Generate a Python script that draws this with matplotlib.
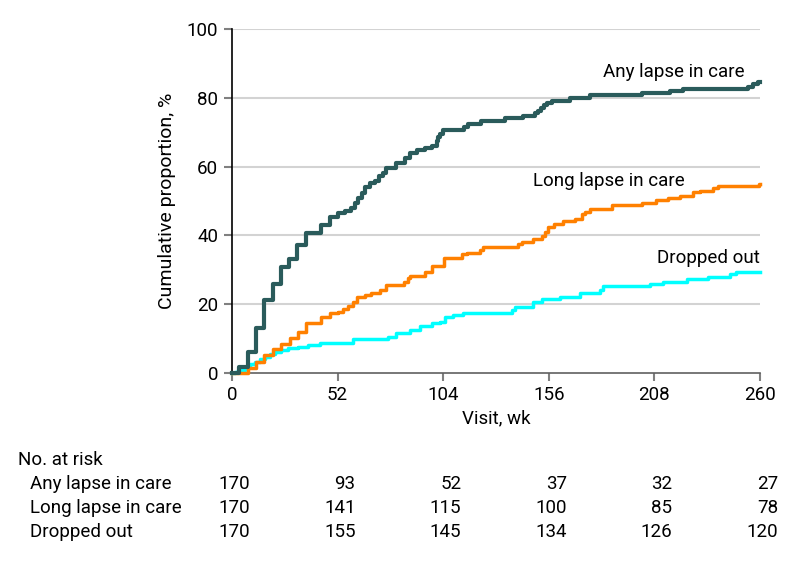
import matplotlib
matplotlib.use("Agg")
import matplotlib.pyplot as plt
import matplotlib.transforms as mtransforms

plt.rcParams['font.family'] = ['Roboto', 'DejaVu Sans']

# ---- data ----
any_wk = [0, 3.6, 8, 12, 16, 20.3, 24, 28, 32, 36.4, 43.8, 48.3, 52.3, 55.6, 58.6, 60.6, 62.2,
          63.9, 65.5, 68, 70.4, 72.5, 74.5, 76, 80.7, 85, 87.6, 91, 95.2, 98.3, 100.8, 101.6,
          102.5, 104, 114, 116.4, 122.5, 134.4, 143.4, 149.2, 150.5, 152, 153.5, 155, 157.4,
          166.4, 176.3, 201.7, 215.7, 222.2, 254.2, 256.7, 259, 260]
any_pct = [0, 1.7, 6, 13, 21.2, 25.9, 30.7, 33, 37.2, 40.6, 43, 45.4, 46.6, 47.2, 47.9, 49.3, 50.8,
           52.2, 54, 55.1, 55.9, 57.3, 58.2, 59.5, 61, 62.5, 63.9, 64.8, 65.5, 66.1, 67.5, 68.5,
           69.5, 70.6, 71.6, 72.4, 73.2, 74, 74.7, 75.5, 76.3, 77, 77.8, 78.5, 79.2,
           80, 80.8, 81.5, 82.1, 82.6, 83.2, 84, 84.5, 84.5]

long_wk = [0, 8, 12, 15.8, 20.2, 24, 28.4, 32.5, 36.3, 43.7, 48.1, 52.2, 54.7, 57.1, 59.6, 61.7,
           65.3, 68.6, 72.7, 76, 84.5, 86.7, 87.6, 95, 98.3, 104.5, 113.5, 115.6, 122, 123.4,
           141, 143, 148.4, 152.5, 154, 155.5, 158.5, 163.1, 168.9, 172.2, 174, 176.3, 187,
           201.7, 209, 214.8, 220.6, 227.1, 230.4, 237, 239.4, 259.5, 260]
long_pct = [0, 1.5, 3.3, 5.2, 6.9, 8.5, 10.1, 11.8, 14.6, 16.2, 17.3, 17.8, 18.5, 19.5, 20.7, 22,
            22.7, 23.3, 24.1, 25.6, 26.5, 27.5, 28.2, 29.3, 31.1, 33.5, 34.5, 35, 35.8, 36.5,
            37.5, 38.2, 39, 39.7, 41, 42.5, 43.3, 44.1, 44.8, 46.2, 46.9, 47.8, 48.8,
            49.5, 50.3, 51, 51.5, 52.5, 53, 53.7, 54.4, 54.9, 54.9]

drop_wk = [0, 1.5, 2.9, 6.2, 8.7, 11.2, 13.6, 16.1, 18.5, 21, 24.3, 27.6, 32.5, 37.4, 43.2, 59.6,
           76.8, 80.9, 87.5, 92.6, 98.3, 102.4, 104.9, 109, 113.9, 137.7, 139.3, 148.4, 152.5,
           161.5, 171.3, 181.2, 182.8, 205.8, 212.4, 223.9, 234.5, 245.2, 248.4, 260]
drop_pct = [0, 0.4, 0.9, 1.7, 2.6, 3.3, 4, 4.7, 5.5, 6.2, 6.7, 7.2, 7.6, 8.1, 8.8, 9.8,
            10.6, 11.7, 12.5, 13.6, 14.4, 14.9, 16.2, 16.9, 17.3, 18.3, 19.3, 20.7, 21.4,
            22.2, 23.2, 24.1, 25.3, 25.9, 26.5, 27.2, 28, 28.7, 29.4, 29.4]

series_names = ["Any lapse in care", "Long lapse in care", "Dropped out"]
x_ticks = [0, 52, 104, 156, 208, 260]
y_ticks = [0, 20, 40, 60, 80, 100]
at_risk = {
    "Any lapse in care": [170, 93, 52, 37, 32, 27],
    "Long lapse in care": [170, 141, 115, 100, 85, 78],
    "Dropped out": [170, 155, 145, 134, 126, 120],
}

colors = ["#2a5b5b", "#ff8000", "#00ffff"]
FS = 13.5

fig = plt.figure(figsize=(7.94, 5.63), dpi=100)
ax = fig.add_axes([232/794, 1-373/563, 528/794, 344/563])

for y in y_ticks[1:]:
    ax.axhline(y, color="#d3d3d3", lw=1.5, zorder=0)

ax.step(drop_wk, drop_pct, where="post", color=colors[2], lw=2.5, zorder=3, clip_on=False)
ax.step(long_wk, long_pct, where="post", color=colors[1], lw=2.5, zorder=4, clip_on=False)
ax.step(any_wk, any_pct, where="post", color=colors[0], lw=3, zorder=5, clip_on=False)

ax.set_xlim(0, 260)
ax.set_ylim(0, 100)
ax.set_xticks(x_ticks)
ax.set_yticks(y_ticks)
ax.tick_params(axis="both", labelsize=FS, length=6, width=1.5, color="#808080", direction="out")
ax.tick_params(axis="x", pad=3)
ax.tick_params(axis="y", pad=4)
for s in ["top", "right"]:
    ax.spines[s].set_visible(False)
ax.spines["left"].set_color("black")
ax.spines["left"].set_linewidth(1.2)
ax.spines["bottom"].set_color("#606060")
ax.spines["bottom"].set_linewidth(1.2)

ax.set_xlabel("Visit, wk", fontsize=FS, labelpad=4)
ax.set_ylabel("Cumulative proportion, %", fontsize=14, labelpad=8)

ax.text(252.6, 87.5, series_names[0], ha="right", va="center", fontsize=FS)
ax.text(223, 55.8, series_names[1], ha="right", va="center", fontsize=FS)
ax.text(260, 33.5, series_names[2], ha="right", va="center", fontsize=FS)

# risk table
fig.text(18/794, 1-460/563, "No. at risk", ha="left", va="center", fontsize=FS)
trans = mtransforms.blended_transform_factory(ax.transData, fig.transFigure)
trans = trans + mtransforms.ScaledTranslation(18/100, 0, fig.dpi_scale_trans)
row_y = [484, 508, 532]
for name, yy in zip(series_names, row_y):
    fig.text(30/794, 1-yy/563, name, ha="left", va="center", fontsize=FS)
    for xt, v in zip(x_ticks, at_risk[name]):
        fig.text(xt, 1-yy/563, str(v), ha="right", va="center", fontsize=FS, transform=trans)

fig.savefig("out.png", dpi=100)
